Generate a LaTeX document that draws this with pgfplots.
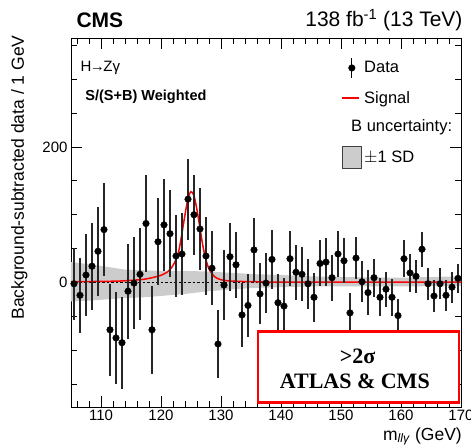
\documentclass[border=0pt]{standalone}
\usepackage{fontspec}
\setmainfont{Liberation Sans}
\newfontfamily\timesbf{Liberation Serif}
\usepackage{pgfplots}
\pgfplotsset{compat=1.18}
\usepackage{pgfplotstable}

% background-subtracted data, 1 GeV bins
\pgfplotstableread{
x y e
105.5 -2 53
106.5 -19 55
107.5 11 60
108.5 24 64
109.5 46 66
110.5 78 69
111.5 -70 68
112.5 -82 68
113.5 -89 68
114.5 -13 70
115.5 -1 68
116.5 12 68
117.5 87 71
118.5 -70 65
119.5 60 64
120.5 85 68
121.5 72 64
122.5 39 60
123.5 42 60
124.5 123 60
125.5 100 59
126.5 79 60
127.5 39 57
128.5 21 55
129.5 -91 50
130.5 -4 52
131.5 38 50
132.5 26 49
133.5 -48 47
134.5 -34 47
135.5 48 47
136.5 -17 45
137.5 -1 44
138.5 34 43
139.5 -30 42
140.5 -35 42
141.5 35 41
142.5 15 41
143.5 12 40
144.5 -2 37
145.5 -22 36
146.5 28 34
147.5 30 36
148.5 7 34
149.5 42 34
150.5 32 33
151.5 -45 29
152.5 36 31
153.5 1 30
154.5 -15 33
155.5 7 28
156.5 -22 28
157.5 -10 26
158.5 -22 27
159.5 -49 24
160.5 35 27
161.5 14 28
162.5 9 24
163.5 49 26
164.5 -2 24
165.5 -20 23
166.5 -2 23
167.5 -19 23
168.5 -7 23
169.5 6 21
}\datatable

\begin{document}
\begin{tikzpicture}
\begin{axis}[
  scale only axis, width=390bp, height=369bp,
  xmin=105, xmax=170, ymin=-184, ymax=361,
  xtick={110,120,...,170}, minor xtick={106,108,...,168},
  ytick={0,200}, minor ytick={-150,-100,...,350},
  tick align=inside, tick pos=both,
  major tick length=11bp, minor tick length=6bp,
  every tick/.append style={black, line width=0.8bp},
  axis line style={line width=0.9bp},
  tick label style={font=\fontsize{15bp}{18bp}\selectfont},
  /pgf/number format/assume math mode=true,
  /pgf/number format/1000 sep={},
  legend style={at={(rel axis cs:0.692,0.948)}, anchor=north west,
    draw=none, fill=none, inner sep=0pt, row sep=11bp,
    font=\fontsize{16.5bp}{19bp}\selectfont},
  legend cell align=left,
]
\addlegendimage{legend image code/.code={
  \draw[black, line width=1.1bp] (10bp,-10bp) -- (10bp,10bp);
  \fill[black] (10bp,0bp) circle (3.3bp);}}
\addlegendentry{Data}
\addlegendimage{red, line width=1.5bp, line legend}
\addlegendentry{Signal}
\addlegendimage{empty legend}
\addlegendentry{\hspace*{-13bp}B uncertainty:}
\addlegendimage{legend image code/.code={
  \draw[fill=gray!40, draw=black!75, line width=0.8bp] (1bp,-11bp) rectangle (20bp,11bp);}}
\addlegendentry{$\pm$1 SD}

% B uncertainty band
\addplot[fill=gray!40, draw=none, forget plot] coordinates {
  (105,30) (108,27) (111,23) (114,19) (117,18) (120,17) (124,17) (128,16)
  (132,14) (136,12) (140,11) (145,9) (150,8) (160,7) (170,9)
  (170,-5) (160,-6) (150,-6) (145,-6) (140,-7) (136,-8) (132,-10) (128,-13)
  (124,-17) (120,-20) (117,-22) (114,-23) (111,-25) (108,-27) (105,-28)};

\addplot[black, line width=1.4bp, dash pattern=on 2.5bp off 2bp, forget plot]
  coordinates {(105,0) (170,0)};

% signal
\addplot[red, line width=1.5bp, smooth, forget plot] coordinates {
  (105,1) (110,1.5) (113,2) (115,3) (117,4.5) (118,6) (119,8) (120,10.5)
  (121,15) (121.5,19) (122,25) (122.5,34) (123,48) (123.5,73) (124,100)
  (124.5,124) (125,134) (125.5,128) (126,107) (126.5,80) (127,53) (127.5,33)
  (128,20) (128.5,13) (129,8) (129.5,5.5) (130,4) (131,2.5) (133,1.5)
  (136,1) (140,0.5) (170,0.5)};

% data
\addplot[only marks, mark=*, mark size=3.3bp, black, forget plot,
  error bars/.cd, y dir=both, y explicit,
  error bar style={line width=1.1bp, black!85}, error mark=none]
  table[x=x, y=y, y error=e] {\datatable};

\node[anchor=west, font=\fontsize{15bp}{18bp}\selectfont] at (rel axis cs:0.0154,0.919) {H\kern-1.5bp→\kern-1.5bp Zγ};
\node[anchor=west, font=\fontsize{14.5bp}{17bp}\selectfont\bfseries] at (rel axis cs:0.028,0.84) {S/(S+B) Weighted};

\draw[red, line width=2.5bp, fill=white] (axis cs:136.2,-72.8) rectangle (axis cs:169.67,-177.7);
\node[font=\fontsize{22bp}{26bp}\timesbf\bfseries] at (axis cs:152.75,-109.7) {>2σ};
\node[font=\fontsize{22bp}{26bp}\timesbf\bfseries] at (axis cs:152.3,-146.7) {ATLAS \& CMS};
\end{axis}

\node[anchor=west, font=\fontsize{21bp}{25bp}\selectfont\bfseries] at ([shift={(2bp,18bp)}]current axis.north west) {CMS};
\node[anchor=east, font=\fontsize{21bp}{25bp}\selectfont] at ([shift={(5bp,18bp)}]current axis.north east) {138 fb\textsuperscript{-1} (13 TeV)};
\node[rotate=90, anchor=south east, font=\fontsize{17.5bp}{21bp}\selectfont] at ([shift={(-40bp,6bp)}]current axis.north west) {Background-subtracted data / 1 GeV};
\node[anchor=base east, inner sep=0pt, font=\fontsize{17.5bp}{21bp}\selectfont] at ([shift={(1bp,-33bp)}]current axis.south east) {m\textsubscript{\textit{llγ}} (GeV)};

\pgfresetboundingbox
\path ([shift={(-71bp,-39bp)}]current axis.south west) rectangle ([shift={(400bp,407bp)}]current axis.south west);
\end{tikzpicture}
\end{document}
